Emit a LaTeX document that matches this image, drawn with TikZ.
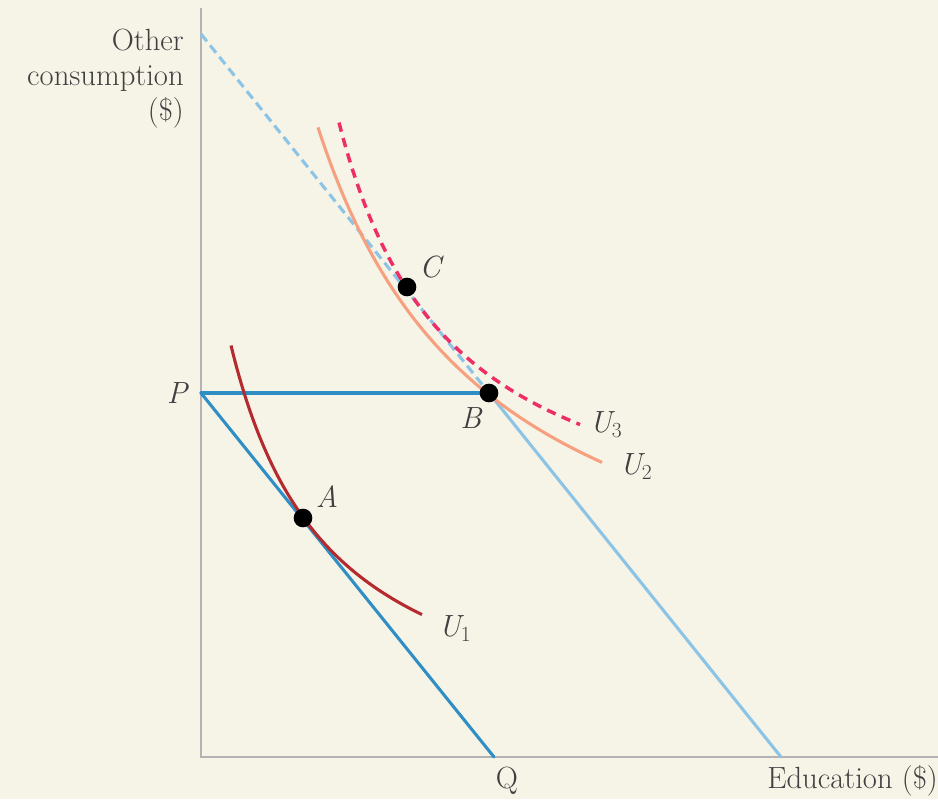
\documentclass[tikz,border=0pt]{standalone}
\usepackage{tikz}
\definecolor{bgc}{HTML}{F6F3E7}
\definecolor{axisc}{HTML}{B3B3B3}
\definecolor{bluedark}{HTML}{2F8FC4}
\definecolor{bluelight}{HTML}{8CC4E6}
\definecolor{u1c}{HTML}{B42A2E}
\definecolor{u2c}{HTML}{F7A07F}
\definecolor{u3c}{HTML}{EE2F66}
\begin{document}
\begin{tikzpicture}[x=0.75pt,y=-0.75pt,
  every node/.style={font=\fontsize{23}{26.25}\selectfont, text=black!75},
  axisline/.style={draw=axisc, line width=2.2pt},
  budget/.style={line width=2.3pt, line cap=round},
  dotpt/.style={circle, fill=black, inner sep=0pt, minimum size=14pt},
  lab/.style={font=\fontsize{23}{26.25}\selectfont\itshape}]
\fill[bgc] (0,0) rectangle (938,799);
\useasboundingbox (0,0) rectangle (938,799);
% coordinates
\coordinate (Ytop) at (201,8);
\coordinate (O) at (201,757);
\coordinate (Xend) at (938,757);
\coordinate (Dtop) at (201,34);
\coordinate (P) at (201,393);
\coordinate (B) at (489,393);
\coordinate (Q) at (494,757);
\coordinate (R) at (781,757);
% axes
\draw[axisline] (Ytop) -- (O) -- (Xend);
% budget lines
\draw[budget, draw=bluelight, dash pattern=on 7pt off 4pt, line cap=butt] (Dtop) -- (B);
\draw[budget, draw=bluelight] (B) -- (R);
\draw[budget, draw=bluedark] (P) -- (B);
\draw[budget, draw=bluedark] (P) -- (Q);
% indifference curves
\draw[u1c, line width=2.3pt] plot[domain=231:422, samples=80, smooth] (\x, {755.5 - 410/((\x-131)/100)});
\draw[u2c, line width=2.3pt] plot[domain=318:602, samples=80, smooth] (\x, {670 - 955/((\x-142)/100)});
\draw[u3c, line width=2.6pt, dash pattern=on 7pt off 5pt] plot[domain=339:580, samples=80, smooth] (\x, {568 - 510/((\x-224.5)/100)});
% points
\node[dotpt] (A) at (303,518) {};
\node[dotpt] (Bd) at (B) {};
\node[dotpt] (C) at (407,287) {};
% labels
\node[lab] (Alab) at (327,497) {A};
\node[lab] (Blab) at (471,418) {B};
\node[lab] (Clab) at (430,267) {C};
\node[lab] (Plab) at (177,393) {P};
\node[lab] (U1lab) at (455,629) {U\textsubscript{\upshape 1}};
\node[lab] (U2lab) at (636,467) {U\textsubscript{\upshape 2}};
\node[lab] (U3lab) at (606,425) {U\textsubscript{\upshape 3}};
\node (Qlab) at (507,781) {Q};
\node[anchor=east, inner sep=0pt] (Xlab) at (938,781) {Education (\$)};
\node[anchor=north east, align=right, inner sep=0pt] (Ylab) at (184,29) {Other\\consumption\\(\$)};
\end{tikzpicture}
\end{document}
